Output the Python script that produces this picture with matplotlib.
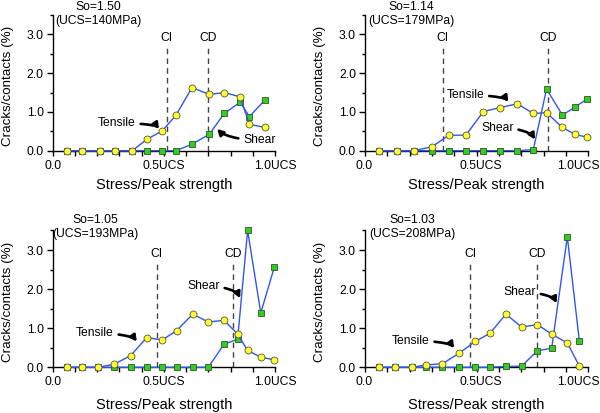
import matplotlib
matplotlib.use("Agg")
import matplotlib.pyplot as plt
import matplotlib.transforms as mtransforms
import numpy as np

plt.rcParams['font.family'] = ['Liberation Sans', 'DejaVu Sans']

# ---------------- data ----------------
titles = ["So=1.50\n(UCS=140MPa)", "So=1.14\n(UCS=179MPa)",
          "So=1.05\n(UCS=193MPa)", "So=1.03\n(UCS=208MPa)"]

p1_x = [0.063, 0.134, 0.213, 0.279, 0.358, 0.425, 0.493, 0.555, 0.627, 0.704, 0.772, 0.843, 0.885, 0.955]
p1_tensile = [0, 0, 0, 0, 0, 0.30, 0.51, 0.92, 1.63, 1.45, 1.50, 1.39, 0.68, 0.60]
p1_shear = [0, 0, 0, 0, 0, 0, 0, 0, 0.17, 0.42, 0.96, 1.25, 0.88, 1.31]

p2_x = [0.064, 0.142, 0.219, 0.299, 0.376, 0.452, 0.530, 0.604, 0.682, 0.754, 0.813, 0.884, 0.940, 0.993]
p2_tensile = [0, 0, 0, 0.10, 0.40, 0.40, 1.01, 1.11, 1.21, 0.96, 0.98, 0.60, 0.42, 0.35]
p2_shear = [0, 0, 0, 0, 0, 0, 0, 0, 0, 0.03, 1.59, 0.92, 1.12, 1.33]

p3_x = [0.063, 0.133, 0.205, 0.277, 0.351, 0.423, 0.493, 0.558, 0.630, 0.700, 0.771, 0.832, 0.877, 0.936, 0.997]
p3_tensile = [0, 0, 0, 0.08, 0.30, 0.76, 0.70, 0.94, 1.36, 1.16, 1.20, 0.85, 0.43, 0.26, 0.19]
p3_shear = [0, 0, 0, 0, 0, 0, 0, 0, 0, 0, 0.59, 0.72, 3.50, 1.39, 2.56]

p4_x = [0.063, 0.134, 0.209, 0.273, 0.346, 0.422, 0.493, 0.560, 0.631, 0.701, 0.772, 0.836, 0.906, 0.960]
p4_tensile = [0, 0, 0, 0.06, 0.09, 0.36, 0.66, 0.87, 1.36, 1.03, 1.09, 0.85, 0.62, 0.03]
p4_shear = [0, 0, 0, 0, 0, 0, 0, 0, 0.02, 0.03, 0.42, 0.49, 3.34, 0.67]

ci_values = [0.513, 0.348, 0.468, 0.470]
cd_values = [0.700, 0.821, 0.810, 0.772]

xtick_labels = ["0.0", "0.5UCS", "1.0UCS"]
ytick_labels = ["0.0", "1.0", "2.0", "3.0"]

# ---------------- layout / style ----------------
panels = [
    dict(x=p1_x, t=p1_tensile, s=p1_shear, pos=[0.0878, 0.6351, 0.3705, 0.3286],
         tens_txt=(0.289, 0.714), tens_tip=(0.478, 0.56), tens_ang=-55,
         shear_txt=(0.930, 0.276), shear_tip=(0.74, 0.56), shear_ang=-45,
         title_xy=(98, 14), ylab_x=-0.176, xlab_y=-0.253, lab_shift=(0, 0, 0)),
    dict(x=p2_x, t=p2_tensile, s=p2_shear, pos=[0.6083, 0.6351, 0.3722, 0.3286],
         tens_txt=(0.450, 1.435), tens_tip=(0.642, 1.26), tens_ang=-55,
         shear_txt=(0.593, 0.593), shear_tip=(0.761, 0.29), shear_ang=-60,
         title_xy=(411, 14), ylab_x=-0.176, xlab_y=-0.253, lab_shift=(-1, 4, -10)),
    dict(x=p3_x, t=p3_tensile, s=p3_shear, pos=[0.0878, 0.1107, 0.3705, 0.3312],
         tens_txt=(0.19, 0.87), tens_tip=(0.378, 0.66), tens_ang=-55,
         shear_txt=(0.679, 2.08), shear_tip=(0.843, 1.77), shear_ang=-65,
         title_xy=(95, 227), ylab_x=-0.176, xlab_y=-0.276, lab_shift=(0, 0, 0)),
    dict(x=p4_x, t=p4_tensile, s=p4_shear, pos=[0.6083, 0.1107, 0.3722, 0.3312],
         tens_txt=(0.205, 0.68), tens_tip=(0.399, 0.49), tens_ang=-55,
         shear_txt=(0.693, 1.92), shear_tip=(0.858, 1.64), shear_ang=-65,
         title_xy=(412, 227), ylab_x=-0.176, xlab_y=-0.276, lab_shift=(-1, 4, -10)),
]

line_color = '#3355ee'
fs_tick = 8.7
fs_xlabel = 10.5
fs_ylabel = 9.6

fig = plt.figure(figsize=(6.0, 4.13), dpi=100)

arrow_style = '-|>,head_width=0.22,head_length=0.4'

for i, p in enumerate(panels):
    ax = fig.add_axes(p['pos'])
    ax.plot(p['x'], p['s'], '-', color=line_color, lw=1.0,
            marker='s', markersize=4.2, markerfacecolor='#33cc22',
            markeredgecolor='#335522', markeredgewidth=0.6, zorder=3, clip_on=False)
    ax.plot(p['x'], p['t'], '-', color=line_color, lw=1.0,
            marker='o', markersize=5.0, markerfacecolor='#ffff33',
            markeredgecolor='#555533', markeredgewidth=0.6, zorder=4, clip_on=False)

    for val, lab in [(ci_values[i], 'CI'), (cd_values[i], 'CD')]:
        ax.plot([val, val], [0, 2.65], color='#444444', lw=1.0,
                ls=(0, (4, 3)), zorder=2)
        ax.text(val, 2.9, lab, ha='center', va='center', fontsize=fs_tick)

    ax.set_xlim(0, 1.0)
    ax.set_ylim(0, 3.5)
    for side in ['top', 'right']:
        ax.spines[side].set_visible(False)
    ax.spines['left'].set_linewidth(1.0)
    ax.spines['bottom'].set_linewidth(1.0)

    ax.set_xticks([0, 0.5, 1.0])
    ax.set_xticklabels(xtick_labels)
    ax.set_xticks(np.arange(0, 1.01, 0.1), minor=True)
    ax.set_yticks([0, 1, 2, 3])
    ax.set_yticklabels(ytick_labels)
    ax.set_yticks(np.arange(0, 3.51, 0.5), minor=True)
    ax.tick_params(axis='x', which='both', direction='out', length=3.5,
                   width=1.0, labelsize=fs_tick, pad=3)
    ax.tick_params(axis='y', which='major', direction='out', length=4,
                   width=1.0, labelsize=fs_tick, pad=2.5)
    ax.tick_params(axis='y', which='minor', direction='out', length=2.5, width=1.0)

    for lbl, dx in zip(ax.get_xticklabels(), p['lab_shift']):
        if dx:
            off = mtransforms.ScaledTranslation(dx / 100, 0, fig.dpi_scale_trans)
            lbl.set_transform(lbl.get_transform() + off)

    ax.set_ylabel('Cracks/contacts (%)', fontsize=fs_ylabel)
    ax.yaxis.set_label_coords(p['ylab_x'], 0.48)
    ax.set_xlabel('Stress/Peak strength', fontsize=fs_xlabel)
    ax.xaxis.label.set_va('center')
    ax.xaxis.set_label_coords(0.5, p['xlab_y'])

    ax.annotate('Tensile', xy=p['tens_tip'], xytext=p['tens_txt'],
                ha='center', va='center', fontsize=fs_tick,
                arrowprops=dict(arrowstyle=arrow_style,
                                lw=1.9, color='black', shrinkA=1.5, shrinkB=0,
                                connectionstyle=f"angle3,angleA=0,angleB={p['tens_ang']}"),
                zorder=5)
    ax.annotate('Shear', xy=p['shear_tip'], xytext=p['shear_txt'],
                ha='center', va='center', fontsize=fs_tick,
                arrowprops=dict(arrowstyle=arrow_style,
                                lw=1.9, color='black', shrinkA=1.5, shrinkB=0,
                                connectionstyle=f"angle3,angleA=0,angleB={p['shear_ang']}"),
                zorder=5)

    tx, ty = p['title_xy']
    fig.text(tx / 600, 1 - ty / 413, titles[i], ha='center', va='center',
             fontsize=fs_tick, linespacing=1.15)

fig.savefig('out.png', dpi=100)
